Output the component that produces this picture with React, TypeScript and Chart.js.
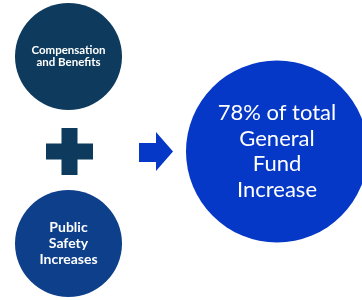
import React, { useEffect, useRef } from "react";
import { Chart, registerables } from "chart.js";

Chart.register(...registerables);

// Bubbles (infographic nodes)
const nodeLabels: string[][] = [
  ["Compensation", "and Benefits"],
  ["Public", "Safety", "Increases"],
  ["78% of total", "General", "Fund", "Increase"],
];
const nodeX = [68.5, 68.5, 277];
const nodeY = [56.5, 243.5, 151.5];
const nodeR = [53.5, 53.5, 91];
const nodeColors = ["#0d3a5d", "#0e3f8b", "#0538c6"];
const nodeFonts = [
  { size: 11.5, weight: "bold", lineH: 12.5 },
  { size: 14, weight: "bold", lineH: 16 },
  { size: 22, weight: "normal", lineH: 25.5 },
];

// Symbols
const plusX = 69.5;
const plusY = 151.5;
const plusArm = 23.5; // half-length
const plusHalfThick = 8;
const plusColor = "#0d3a5d";

const arrowX = [139, 156, 173]; // body left, head start, tip
const arrowBodyY = [143, 162];
const arrowHeadY = [132, 171];
const arrowColor = "#0538c6";

export default function App() {
  const ref = useRef<HTMLCanvasElement | null>(null);
  useEffect(() => {
    if (!ref.current) return;
    const overlay = {
      id: "overlay",
      afterDatasetsDraw(chart: any) {
        const ctx = chart.ctx;
        const xs = chart.scales.x;
        const ys = chart.scales.y;
        const px = (v: number) => xs.getPixelForValue(v);
        const py = (v: number) => ys.getPixelForValue(v);
        ctx.save();
        // plus
        ctx.fillStyle = plusColor;
        ctx.fillRect(px(plusX - plusHalfThick), py(plusY - plusArm), px(plusX + plusHalfThick) - px(plusX - plusHalfThick), py(plusY + plusArm) - py(plusY - plusArm));
        ctx.fillRect(px(plusX - plusArm), py(plusY - plusHalfThick), px(plusX + plusArm) - px(plusX - plusArm), py(plusY + plusHalfThick) - py(plusY - plusHalfThick));
        // arrow
        ctx.fillStyle = arrowColor;
        ctx.beginPath();
        ctx.moveTo(px(arrowX[0]), py(arrowBodyY[0]));
        ctx.lineTo(px(arrowX[1]), py(arrowBodyY[0]));
        ctx.lineTo(px(arrowX[1]), py(arrowHeadY[0]));
        ctx.lineTo(px(arrowX[2]), py((arrowHeadY[0] + arrowHeadY[1]) / 2));
        ctx.lineTo(px(arrowX[1]), py(arrowHeadY[1]));
        ctx.lineTo(px(arrowX[1]), py(arrowBodyY[1]));
        ctx.lineTo(px(arrowX[0]), py(arrowBodyY[1]));
        ctx.closePath();
        ctx.fill();
        // text
        const meta = chart.getDatasetMeta(0);
        meta.data.forEach((el: any, i: number) => {
          const f = nodeFonts[i];
          const lines = nodeLabels[i];
          ctx.fillStyle = "#ffffff";
          ctx.textAlign = "center";
          ctx.textBaseline = "middle";
          ctx.font = `${f.weight} ${f.size}px Lato, "Open Sans", sans-serif`;
          const start = el.y - ((lines.length - 1) * f.lineH) / 2;
          lines.forEach((ln, k) => ctx.fillText(ln, el.x, start + k * f.lineH));
        });
        ctx.restore();
      },
    };
    const chart = new Chart(ref.current, {
      type: "bubble",
      data: {
        datasets: [
          {
            data: nodeX.map((x, i) => ({ x, y: nodeY[i], r: nodeR[i] })),
            backgroundColor: nodeColors,
            borderWidth: 0,
            hoverBorderWidth: 0,
            clip: false,
          },
        ],
      },
      options: {
        animation: false,
        responsive: false,
        maintainAspectRatio: false,
        devicePixelRatio: 1,
        layout: { padding: 0, autoPadding: false },
        events: [],
        plugins: { legend: { display: false }, tooltip: { enabled: false } },
        scales: {
          x: { type: "linear", min: 0, max: 362, display: false },
          y: { type: "linear", min: 0, max: 300, reverse: true, display: false },
        },
      },
      plugins: [overlay],
    });
    return () => chart.destroy();
  }, []);
  return (
    <div style={{ position: "fixed", left: 0, top: 0, width: 362, height: 300, background: "#ffffff" }}>
      <canvas ref={ref} width={362} height={300} style={{ display: "block", width: 362, height: 300 }} />
    </div>
  );
}
